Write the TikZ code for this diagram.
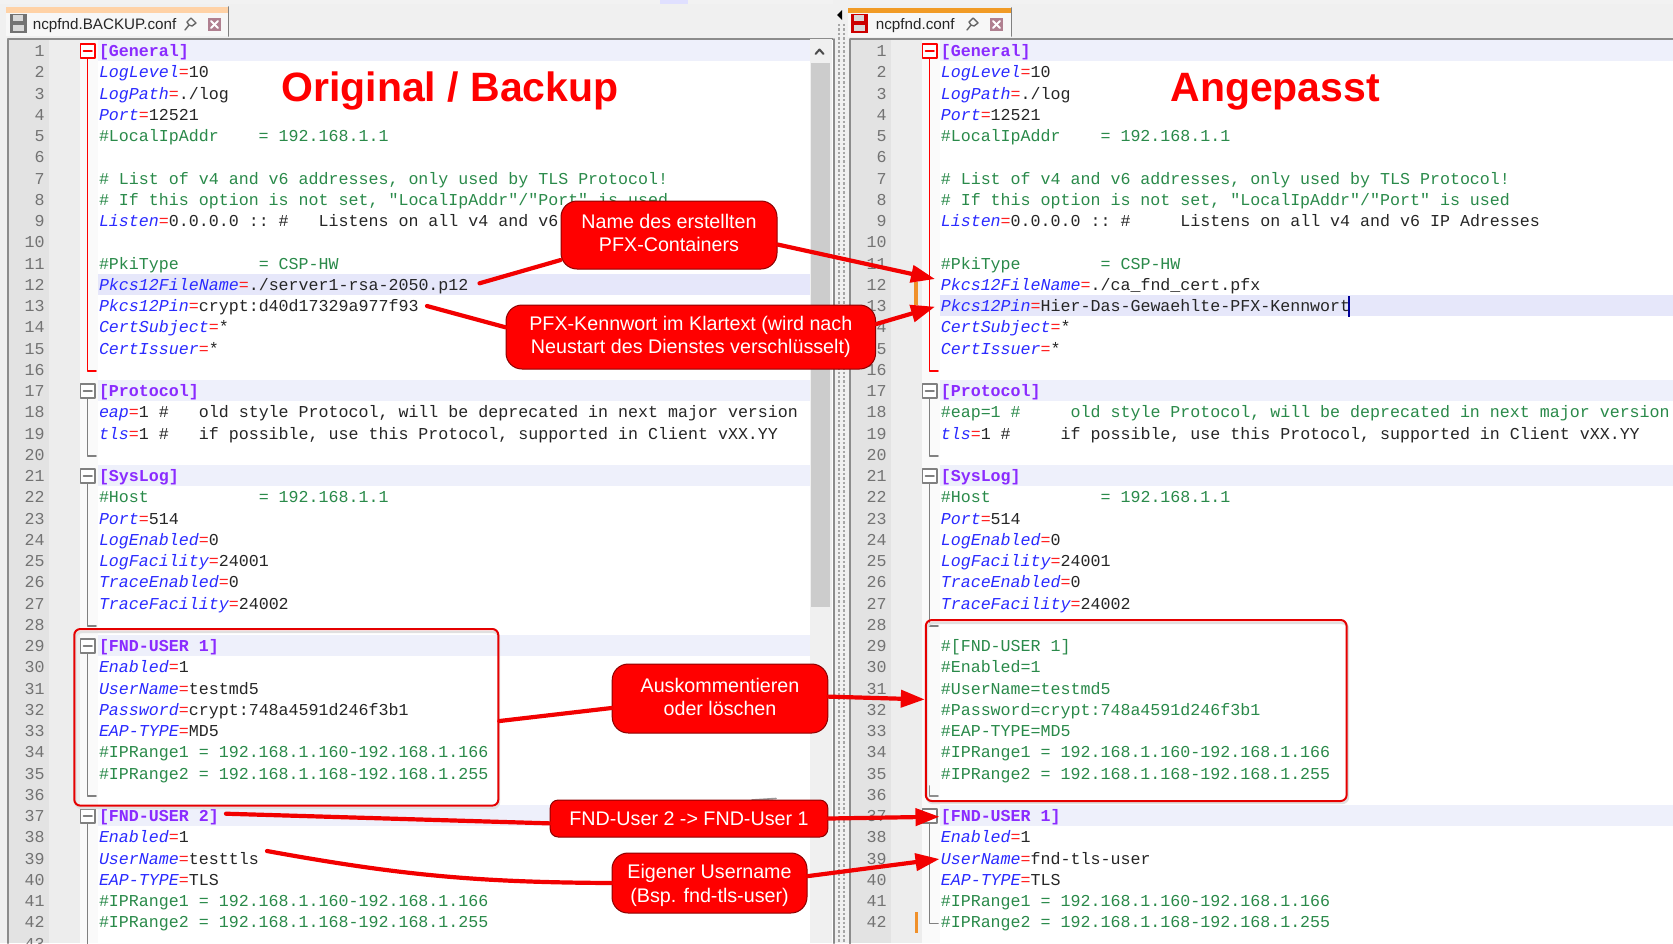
\documentclass[tikz,border=0pt]{standalone}
\usepackage{fontspec}
\setmainfont{Liberation Sans}
\newfontfamily\codefont{Liberation Mono}
\usetikzlibrary{arrows.meta}

\definecolor{keyblue}{HTML}{2A2AFF}
\definecolor{eqred}{HTML}{FF2020}
\definecolor{cmtgreen}{HTML}{2A8A4A}
\definecolor{sectpurple}{HTML}{8A2BFF}
\definecolor{rowblue}{HTML}{EEF0FB}
\definecolor{rowdark}{HTML}{E6E7FA}
\definecolor{markorange}{HTML}{F0902A}
\definecolor{closemauve}{HTML}{B08090}

\newcommand{\kv}[2]{{\color{keyblue}\itshape #1}{\color{eqred}=}{\color{black!85}#2}}
\newcommand{\cmt}[1]{{\color{cmtgreen}#1}}
\newcommand{\sect}[1]{{\color{sectpurple}\bfseries #1}}

\tikzset{
  coderow/.style={anchor=base west,inner sep=0pt,font=\codefont\fontsize{8.32}{10}\selectfont\frenchspacing},
  rownum/.style={anchor=base east,inner sep=0pt,text=black!55,font=\codefont\fontsize{8.32}{10}\selectfont},
  headline/.style={anchor=base west,inner sep=0pt,text=red,font=\fontsize{20.5}{24}\selectfont\bfseries},
  callout/.style={draw=black!45!red,line width=.5pt,fill=red,text=white,rounded corners=8pt,align=center,inner sep=0pt,
    font=\fontsize{9.85}{11.65}\selectfont},
  framebox/.style={draw=red!90!black,line width=1pt,rounded corners=3pt,inner sep=0pt},
  leader/.style={red!95!black,line width=2.1pt},
  tabtitle/.style={anchor=base west,inner sep=0pt,text=black!85,font=\fontsize{7.6}{10}\selectfont},
}

\begin{document}
\begin{tikzpicture}[x=.5pt,y=-.5pt,line cap=round,line join=round,>={Triangle[length=12pt,width=8.5pt]}]
        \useasboundingbox (0,0) rectangle (1673,943);
        \clip (0,0) rectangle (1673,943);
        \fill[black!6] (0,0) rectangle (1673,943);
        \fill[white!95!black] (0,0) rectangle (1673,4);
        \fill[blue!12] (660,0) rectangle (688,4);

        % both editor panels
        \foreach \ox/\side/\pw/\last in {0/lt/826/43,842/rt/831/42}{
        \begin{scope}[xshift=\ox*.5pt]
                \fill[white] (98,39) rectangle (8+\pw,943);
                \fill[black!11] (8,39) rectangle (49,943);
                \fill[black!7] (49,39) rectangle (80,943);
                \fill[black!2] (80,39) rectangle (98,943);
                \draw[black!45,line width=1pt] (8,943) -- (8,38.5) -- (8+\pw,38.5);
                \foreach \n in {1,...,\last}{
                        \node[rownum] (num\side\n) at (45,{50.7+(\n-1)*21.25+5.8}) {\n};
                }
        \end{scope}
        }

        % tinted rows
        \foreach \n in {1,17,21,29,37}{
                \fill[rowblue] (98,{40.1+(\n-1)*21.25}) rectangle (810,{61.3+(\n-1)*21.25});
        }
        \fill[rowdark] (98,{40.1+11*21.25}) rectangle (810,{61.3+11*21.25});
        \foreach \n in {1,17,21,37}{
                \fill[rowblue] (940,{40.1+(\n-1)*21.25}) rectangle (1673,{61.3+(\n-1)*21.25});
        }
        \fill[rowdark] (940,{40.1+12*21.25}) rectangle (1673,{61.3+12*21.25});

        % scrollbar of the left panel
        \fill[black!6] (810,39) rectangle (832,943);
        \fill[black!20] (811,63) rectangle (830,607);
        \draw[black!70,line width=1pt] (815.5,54) -- (819.5,49.5) -- (823.5,54);

        % splitter between the panels
        \fill[black!6] (833,0) rectangle (850,943);
        \draw[black!45,line width=1pt] (834,39) -- (834,943);
        \draw[black!45,line width=1pt] (850,39) -- (850,943);
        \draw[black!35,line width=1.2pt,line cap=butt,dash pattern=on 1.2pt off 1pt] (839,24) -- (839,943);
        \draw[black!35,line width=1.2pt,line cap=butt,dash pattern=on 1.2pt off 1pt] (844,24) -- (844,943);
        \fill[black] (837,15) -- (842,10) -- (842,20) -- cycle;

        % tabs
        \fill[black!3] (6,7) rectangle (228,36);
        \fill[orange!35!white] (6,7) rectangle (228,12.5);
        \draw[black!50,line width=.8pt] (228.5,7) -- (228.5,36);
        \fill[black!3] (848,8) rectangle (1011,37);
        \fill[markorange!90!yellow] (848,8) rectangle (1011,13);
        \draw[black!50,line width=.8pt] (1011.5,8) -- (1011.5,36);
        \foreach \ix/\ic in {10/black!55,851/red!80!black}{
                \fill[\ic] (\ix,14) rectangle (\ix+17,33);
                \fill[white!85!black] (\ix+3,15) rectangle (\ix+13,21);
                \fill[white!85!black] (\ix+3,25) rectangle (\ix+14,31);
        }
        \node[tabtitle] (tabLeft) at (32.5,29.5) {ncpfnd.BACKUP.conf};
        \node[tabtitle] (tabRight) at (875.5,29.5) {ncpfnd.conf};
        \foreach \ix in {190,972}{
                \draw[black!60,line width=.7pt] (\ix-5,30) -- (\ix-1,25) -- (\ix-3,22) -- (\ix+1,18) -- (\ix+6,23) -- (\ix+2,26) -- (\ix-1,25);
                \fill[closemauve] (\ix+18,18) rectangle (\ix+31,31);
                \draw[white,line width=1pt] (\ix+21,21) -- (\ix+28,28);
                \draw[white,line width=1pt] (\ix+28,21) -- (\ix+21,28);
        }

        % fold markers
        \foreach \ox/\s/\e/\c in {0/1/16/red,0/17/20/black!50,0/21/28/black!50,0/29/36/black!50,0/37/45/black!50,
                842/1/16/red,842/17/20/black!50,842/21/28/black!50,842/37/42/black!50}{
                \draw[\c,line width=.8pt] ({\ox+87.5},{50.7+(\s-1)*21.25}) -- ({\ox+87.5},{50.7+(\e-1)*21.25+1.5}) -- ({\ox+96},{50.7+(\e-1)*21.25+1.5});
                \draw[\c,line width=.8pt,fill=white] ({\ox+80.5},{43.7+(\s-1)*21.25}) rectangle ({\ox+95},{58.2+(\s-1)*21.25});
                \draw[\c,line width=.8pt] ({\ox+83.5},{50.7+(\s-1)*21.25}) -- ({\ox+92},{50.7+(\s-1)*21.25});
        }
        \draw[black!45,line width=.8pt] (929.5,786) -- (929.5,796) -- (938,796);

        % the rows both files have in common
        \foreach \ox/\side in {98.6/lt,940.4/rt}{
                \foreach \n/\t in {
                        1/{\sect{[General]}},
                        2/{\kv{LogLevel}{10}},
                        3/{\kv{LogPath}{./log}},
                        4/{\kv{Port}{12521}},
                        5/{\cmt{\#LocalIpAddr~~~~= 192.168.1.1}},
                        7/{\cmt{\# List of v4 and v6 addresses, only used by TLS Protocol!}},
                        8/{\cmt{\# If this option is not set, "LocalIpAddr"/"Port" is used}},
                        11/{\cmt{\#PkiType~~~~~~~~= CSP-HW}},
                        14/{\kv{CertSubject}{*}},
                        15/{\kv{CertIssuer}{*}},
                        17/{\sect{[Protocol]}},
                        21/{\sect{[SysLog]}},
                        22/{\cmt{\#Host~~~~~~~~~~~= 192.168.1.1}},
                        23/{\kv{Port}{514}},
                        24/{\kv{LogEnabled}{0}},
                        25/{\kv{LogFacility}{24001}},
                        26/{\kv{TraceEnabled}{0}},
                        27/{\kv{TraceFacility}{24002}},
                        34/{\cmt{\#IPRange1 = 192.168.1.160-192.168.1.166}},
                        35/{\cmt{\#IPRange2 = 192.168.1.168-192.168.1.255}},
                        38/{\kv{Enabled}{1}},
                        40/{\kv{EAP-TYPE}{TLS}},
                        41/{\cmt{\#IPRange1 = 192.168.1.160-192.168.1.166}},
                        42/{\cmt{\#IPRange2 = 192.168.1.168-192.168.1.255}}}{
                        \node[coderow] (\side row\n) at (\ox,{50.7+(\n-1)*21.25+5.8}) {\t};
                }
        }

        % rows of the backup
        \foreach \n/\t in {
                9/{\kv{Listen}{0.0.0.0 :: \#~~~Listens on all v4 and v6 IP Adresses}},
                12/{\kv{Pkcs12FileName}{./server1-rsa-2050.p12}},
                13/{\kv{Pkcs12Pin}{crypt:d40d17329a977f93}},
                18/{\kv{eap}{1 \#~~~old style Protocol, will be deprecated in next major version}},
                19/{\kv{tls}{1 \#~~~if possible, use this Protocol, supported in Client vXX.YY}},
                29/{\sect{[FND-USER 1]}},
                30/{\kv{Enabled}{1}},
                31/{\kv{UserName}{testmd5}},
                32/{\kv{Password}{crypt:748a4591d246f3b1}},
                33/{\kv{EAP-TYPE}{MD5}},
                37/{\sect{[FND-USER 2]}},
                39/{\kv{UserName}{testtls}}}{
                \node[coderow] (ltrow\n) at (98.6,{50.7+(\n-1)*21.25+5.8}) {\t};
        }

        % rows of the edited file
        \foreach \n/\t in {
                9/{\kv{Listen}{0.0.0.0 :: \#~~~~~Listens on all v4 and v6 IP Adresses}},
                12/{\kv{Pkcs12FileName}{./ca\_fnd\_cert.pfx}},
                13/{\kv{Pkcs12Pin}{Hier-Das-Gewaehlte-PFX-Kennwort}},
                18/{\cmt{\#eap=1 \#~~~~~old style Protocol, will be deprecated in next major version}},
                19/{\kv{tls}{1 \#~~~~~if possible, use this Protocol, supported in Client vXX.YY}},
                29/{\cmt{\#[FND-USER 1]}},
                30/{\cmt{\#Enabled=1}},
                31/{\cmt{\#UserName=testmd5}},
                32/{\cmt{\#Password=crypt:748a4591d246f3b1}},
                33/{\cmt{\#EAP-TYPE=MD5}},
                37/{\sect{[FND-USER 1]}},
                39/{\kv{UserName}{fnd-tls-user}}}{
                \node[coderow] (rtrow\n) at (940.4,{50.7+(\n-1)*21.25+5.8}) {\t};
        }

        % caret and change marks
        \draw[blue!60!black,line width=.7pt,line cap=butt] (1349,296) -- (1349,317);
        \draw[markorange,line width=1.6pt,line cap=butt] (916,282) -- (916,305);
        \draw[markorange,line width=1.6pt,line cap=butt] (916.5,912) -- (916.5,933);

        % headings
        \node[headline] (titleLeft) at (281,101) {Original / Backup};
        \node[headline] (titleRight) at (1170,101) {Angepasst};

        % marked blocks
        \draw[black!12,line width=1.2pt,rounded corners=3pt] (75.5,632) rectangle (499,808);
        \draw[black!12,line width=1.2pt,rounded corners=3pt] (927,623) rectangle (1348,803);
        \node[framebox,minimum width=212pt,minimum height=88.3pt] (oldBlock) at (286.3,717.3) {};
        \node[framebox,minimum width=210.4pt,minimum height=90.5pt] (newBlock) at (1136.2,710.5) {};

        % free ends
        \coordinate (fileOld) at (479.5,283.3);
        \coordinate (fileNew) at (935,279);
        \coordinate (pinOld) at (427,306);
        \coordinate (pinNew) at (935,306.7);
        \coordinate (userOld) at (226,813.7);
        \coordinate (userNew) at (939.5,816.7);
        \coordinate (nameOld) at (267,851);
        \coordinate (nameNew) at (939.5,859);

        \draw[black!40,line width=.8pt] (752,800) -- (776,798.5);

        % callouts
        \node[callout,minimum width=108pt,minimum height=34pt,text depth=2pt] (nameBox) at (669,235) {Name des erstellten\\PFX-Containers};
        \node[callout,minimum width=184.8pt,minimum height=32pt] (pinBox) at (690.8,337) {PFX-Kennwort im Klartext (wird nach\\Neustart des Dienstes verschlüsselt)};
        \node[callout,minimum width=107.8pt,minimum height=34.5pt,text depth=1.7pt] (dropBox) at (720,698.5) {Auskommentieren\\oder löschen};
        \node[callout,minimum width=138.8pt,minimum height=18.5pt,rounded corners=4pt] (userBox) at (689,818.5) {FND-User 2 -> FND-User 1};
        \node[callout,minimum width=97.5pt,minimum height=30pt,text height=21.3pt] (ownBox) at (709.5,883) {Eigener Username\\(Bsp. fnd-tls-user)};

        % connectors
        \draw[leader] (fileOld) -- (nameBox.193);
        \draw[leader,->] (nameBox.355) -- (fileNew);
        \draw[leader] (pinOld) -- (pinBox.177);
        \draw[leader,->] (pinBox.4) -- (pinNew);
        \draw[leader] (oldBlock.359) -- (dropBox.185);
        \draw[leader,->] (dropBox.1) -- (newBlock.177);
        \draw[leader] (userOld) -- (userBox.182);
        \draw[leader,->] (userBox.0) -- (userNew);
        \draw[leader] (nameOld) to[bend right=5] (ownBox.180);
        \draw[leader,->] (ownBox.4) -- (nameNew);

\end{tikzpicture}
\end{document}
